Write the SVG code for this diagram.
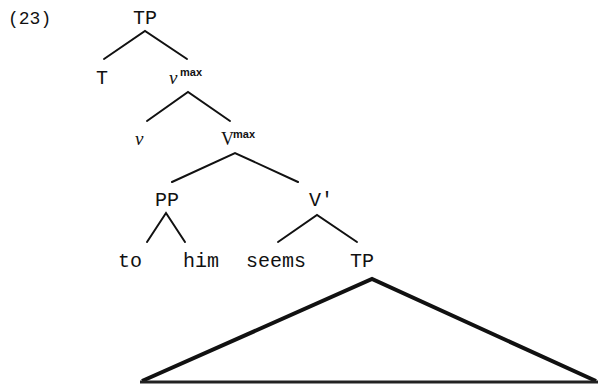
<svg xmlns="http://www.w3.org/2000/svg" width="599" height="384" viewBox="0 0 599 384">
  <style>
    .lbl { font-family: "Liberation Mono", "Courier New", monospace; font-size: 20px; fill: #111; text-anchor: middle; }
    .num { font-family: "Liberation Mono", "Courier New", monospace; font-size: 18px; fill: #111; }
    .ital { font-family: "Liberation Serif", "Times New Roman", serif; font-style: italic; font-size: 19px; fill: #111; }
    .cap { font-family: "Liberation Serif", "Times New Roman", serif; font-size: 18px; fill: #111; }
    .sup { font-family: "Liberation Sans", Arial, sans-serif; font-weight: bold; font-size: 11px; fill: #111; }
    .edge { stroke: #111; stroke-width: 2; fill: none; stroke-linecap: round; }
    .tri { stroke: #111; stroke-width: 4; fill: none; stroke-linejoin: miter; }
  </style>
  <rect width="599" height="384" fill="#fff"/>

  <text class="num" x="8" y="24">(23)</text>

  <g id="tp-root"><text class="lbl" x="145" y="24">TP</text></g>
  <g id="t"><text class="lbl" x="102" y="84">T</text></g>
  <g id="vmax-small">
    <text class="ital" x="169" y="84">v</text>
    <text class="sup" x="180" y="76">max</text>
  </g>
  <g id="v"><text class="ital" x="135" y="145">v</text></g>
  <g id="vmax">
    <text class="cap" x="221" y="145">V</text>
    <text class="sup" x="233" y="138">max</text>
  </g>
  <g id="pp"><text class="lbl" x="167" y="206">PP</text></g>
  <g id="vbar"><text class="lbl" x="321" y="206">V'</text></g>
  <g id="to"><text class="lbl" x="130" y="267">to</text></g>
  <g id="him"><text class="lbl" x="201" y="267">him</text></g>
  <g id="seems"><text class="lbl" x="276" y="267">seems</text></g>
  <g id="tp-embedded"><text class="lbl" x="362" y="267">TP</text></g>

  <g id="connectors">
    <path class="edge" d="M104 59 L145 31 L187 59"/>
    <path class="edge" d="M147 121 L188 92 L230 121"/>
    <path class="edge" d="M172 182 L235 153 L298 182"/>
    <path class="edge" d="M147 242 L166 213 L185 242"/>
    <path class="edge" d="M278 242 L317 215 L357 242"/>
    <path class="tri" d="M142 381 L372 279 L596 381"/>
    <line x1="140" y1="382" x2="598" y2="382" stroke="#222" stroke-width="3"/>
  </g>
</svg>
